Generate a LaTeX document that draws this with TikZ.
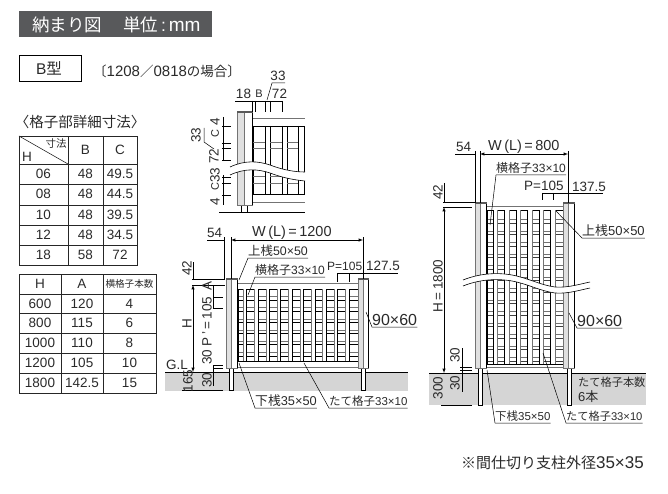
\documentclass[tikz,border=0pt]{standalone}
\usepackage{fontspec}
\setmainfont{Liberation Sans}
\newfontfamily\jp{Noto Sans CJK JP}
\usetikzlibrary{positioning}
\definecolor{barcol}{HTML}{58595B}
\definecolor{groundcol}{HTML}{D5D5D5}
\definecolor{inkcol}{HTML}{2A2A2A}
\newcommand{\fs}[1]{\fontsize{#1}{#1}\selectfont}

% post with its cap, x0 x1 top bottom
\newcommand{\postshape}[4]{
    \fill[white] (#1,#3) rectangle (#2,#4);
    \fill[black!12] (#1,#3) rectangle ({(#1+#2)/2},#4);
    \draw[edgeline] (#1,#3) rectangle (#2,#4);
    \draw[edgeline] ({(#1+#2)/2},#3) -- ({(#1+#2)/2},#4);
    \draw[line width=.7pt] (#2,#3) -- (#2,#4);
    \fill[black!65] (#1-.5,#3-1) rectangle (#2+.8,#3+1);
}
% foot of a post, x0 x1 top bottom
\newcommand{\footshape}[4]{
    \draw[fill=white, line width=.8pt] (#1,#3) rectangle (#2,#4);
}

\tikzset{
    edgeline/.style={black!55, line width=.6pt},
    darkline/.style={black, line width=.8pt},
    dimline/.style={black, line width=.5pt},
    gridline/.style={black!85, line width=.9pt},
    dimtext/.style={inner sep=0pt, text=inkcol, font=\fs{13.5}},
    dimup/.style={dimtext, rotate=90},
    notetext/.style={inner xsep=0pt, inner ysep=1.5pt, anchor=south west, text=inkcol, font=\fs{12}},
    celltext/.style={inner sep=0pt, text=inkcol, font=\fs{13.5}}
}

\begin{document}
\begin{tikzpicture}[x=1pt, y=-1pt, >=latex]

    \useasboundingbox (0,0) rectangle (668,494);

    % Title bar and type box
    \fill[barcol] (19,11) rectangle (212,37);
    \node (title) [anchor=west, inner sep=0pt, text=white, font=\fs{17.5}] at (32,24.5)
    {{\jp 納まり図}\hspace{21pt}{\jp 単位}\,:\,{\fs{19}mm}};
    \draw[line width=.8pt] (19,55) rectangle (81,81);
    \node (btype) [celltext, font=\fs{15.5}] at (49,68) {B{\jp 型}};
    \node (bcase) [anchor=west, inner sep=0pt, text=inkcol, font=\fs{15}] at (93,71)
    {{\fs{13.5}\jp 〔}1208{\fs{13.5}\jp ／}0818{\fs{13.5}\jp の場合〕}};

    % Upper table
    \node (tabA) [inner sep=0pt, text=inkcol, font=\fs{14.5}\jp] at (80,122)
    {〈格子部詳細寸法〉};
    \begin{scope}[gridline]
        \draw (19,136) rectangle (137,265);
        \draw (68,136) -- (68,265);
        \draw (103,136) -- (103,265);
        \foreach \y in {164,184,205,225,245}
            \draw (19,\y) -- (137,\y);
        \draw[line width=.6pt] (19,136) -- (68,164);
    \end{scope}
    \node (tabAsun) [celltext, font=\fs{10.5}\jp] at (56,143.5) {寸法};
    \node (tabAh) [celltext] at (27,157) {H};
    \node (tabAb) [celltext] at (85.5,150) {B};
    \node (tabAc) [celltext] at (120,150) {C};
    \foreach \y/\h/\b/\c in {174/06/48/49.5,194/08/48/44.5,215/10/48/39.5,235/12/48/34.5,255/18/58/72}{
        \node (tabAh\h) [celltext] at (43.5,\y) {\h};
        \node (tabAb\h) [celltext] at (85.5,\y) {\b};
        \node (tabAc\h) [celltext] at (120,\y) {\c};
    }

    % Lower table
    \begin{scope}[gridline]
        \draw (19,274) rectangle (156,393);
        \draw (61,274) -- (61,393);
        \draw (103,274) -- (103,393);
        \foreach \y in {294,313,333,353,373}
            \draw (19,\y) -- (156,\y);
    \end{scope}
    \node (tabBh) [celltext] at (40,284) {H};
    \node (tabBa) [celltext] at (82,284) {A};
    \node (tabBn) [celltext, font=\fs{9.6}\jp] at (129.5,284) {横格子本数};
    \foreach \y/\h/\a/\n in {304/600/120/4,323/800/115/6,343/1000/110/8,363/1200/105/10,383/1800/142.5/15}{
        \node (tabBh\h) [celltext] at (40,\y) {\h};
        \node (tabBa\h) [celltext] at (82,\y) {\a};
        \node (tabBn\h) [celltext] at (129.5,\y) {\n};
    }

    % Detail of the lattice
    \begin{scope}
        \draw[edgeline] (252,118) -- (305,118);
        \draw[darkline] (252,126) -- (305,126);
        \draw[darkline] (252,194) -- (305,194);
        \draw[edgeline] (252,202) -- (305,202);
        \foreach \x in {253,265,270,282,287,298,304}
            \draw[darkline] (\x,126) -- (\x,194);
        \foreach \xa/\xb in {253/265,270/282,287/298}{
            \foreach \y in {142,148,176,183}
                \draw[edgeline] (\xa,\y) -- (\xb,\y);
        }
        \footshape{241}{247}{205}{212}
        \postshape{237}{252}{112}{205}
        \draw[dimline] (219,212) -- (305,212);
        % break in the lattice
        \fill[white] (230,167) .. controls (245,160) and (258,161) .. (270,165)
            .. controls (283,170) and (295,172) .. (305,172) -- (305,181)
            .. controls (295,180) and (283,178) .. (270,173)
            .. controls (258,169) and (245,168) .. (230,175) -- cycle;
        \draw[edgeline, black] (230,167) .. controls (245,160) and (258,161) .. (270,165)
            .. controls (283,170) and (295,172) .. (305,172);
        \draw[edgeline, black] (230,175) .. controls (245,168) and (258,169) .. (270,173)
            .. controls (283,178) and (295,180) .. (305,181);
    \end{scope}

    % Dimensions of the detail
    \begin{scope}[dimline]
        \draw (235,101) -- (282,101);
        \foreach \x in {252,255,265,270,282}
            \draw (\x,101) -- (\x,112);
        \draw (267,100) -- (272,83) -- (285,83);
        \draw (223,117) -- (223,160);
        \draw (223,175) -- (223,205);
        \foreach \y in {126,143,148,160,177,183,195}
            \draw (222,\y) -- (231,\y);
        \draw (204,128) -- (204,142) -- (214,149);
    \end{scope}
    \node (dsa) [dimtext] at (243.5,94) {18};
    \node (dsb) [dimtext, font=\fs{11}] at (259,94) {B};
    \node (dsc) [dimtext] at (279.5,94) {72};
    \node (dsd) [dimtext] at (278,76) {33};
    \node (dse) [dimup] at (196,135) {33};
    \node (dsf) [dimup] at (215,122) {4};
    \node (dsg) [dimup, font=\fs{11}] at (215,134) {C};
    \node (dsh) [dimup] at (214,156) {72};
    \node (dsi) [dimup] at (215,175) {33};
    \node (dsj) [dimup, font=\fs{11}] at (215,187) {C};
    \node (dsk) [dimup] at (215,202) {4};

    % Fence W=1200
    \fill[groundcol] (165,372) rectangle (408,391);
    \draw[line width=.7pt] (165,372) -- (408,372);
    \draw[edgeline] (237,283) -- (358,283);
    \draw[darkline] (237,289) -- (358,289);
    \draw[darkline] (237,361) -- (358,361);
    \draw[edgeline] (237,367) -- (358,367);
    \foreach \k in {0,...,5}{
        \draw[edgeline] (237,{296.5+11.2*\k}) -- (358,{296.5+11.2*\k});
        \draw[darkline] (237,{300+11.2*\k}) -- (358,{300+11.2*\k});
    }
    \foreach \k in {0,...,9}{
        \fill[white] ({243.3+11.35*\k},289) rectangle ({246.8+11.35*\k},361);
        \draw[edgeline] ({243.3+11.35*\k},289) -- ({243.3+11.35*\k},361);
        \draw[darkline] ({246.8+11.35*\k},289) -- ({246.8+11.35*\k},361);
    }
    \draw[darkline] (238,289) -- (238,361);
    \footshape{229}{233}{368}{390}
    \footshape{361}{365}{368}{390}
    \postshape{226}{237}{279}{368}
    \postshape{358}{368}{279}{368}

    % Dimensions of fence W=1200
    \begin{scope}[dimline]
        \draw (207,240) -- (224,240);
        \draw (224,237) -- (224,279);
        \draw (231,237) -- (231,279);
        \draw[<->] (231,240) -- (363,240);
        \draw (363,237) -- (363,279);
        \draw (337,273) -- (398,273);
        \foreach \x in {337,349}
            \draw (\x,273) -- (\x,282);
        \draw (193,262) -- (193,279);
        \draw (192,279) -- (225,279);
        \draw (192,285) -- (225,285);
        \draw[<->] (193,285) -- (193,372);
        \draw (213,285) -- (213,308);
        \draw (213,365) -- (213,386);
        \foreach \y in {297,308,365,368}
            \draw (213,\y) -- (223,\y);
        \draw (182,390) -- (223,390);
    \end{scope}
    \node (fla) [dimtext, anchor=west] at (207,233) {54};
    \node (flb) [dimtext, anchor=west, font=\fs{14.5}] at (252,233) {W\,(L)\,=\,1200};
    \node (flc) [dimtext, anchor=west, font=\fs{12}] at (327,266) {P=105};
    \node (fld) [dimtext, anchor=west] at (366,266) {127.5};
    \node (fle) [dimup] at (187,268) {42};
    \node (flf) [dimup] at (187,324) {H};
    \node (flg) [dimup] at (207,314) {P\,'\,=\,105\, A};
    \node (flh) [dimup] at (207,357) {30};
    \node (fli) [dimup] at (207,380) {30};
    \node (flj) [dimup] at (188,381) {165};
    \node (flk) [dimtext, anchor=west] at (166,365) {G.L};

    % Labels of fence W=1200
    \node (flrail) [notetext, font=\fs{12.4}] at (248,258) {{\jp 上桟}50×50};
    \node (fllat) [notetext] at (255,277) {{\jp 横格子}33×10};
    \node (flpost) [notetext, font=\fs{16}] at (372,327) {90×60};
    \node (fllow) [notetext, font=\fs{12.8}] at (255,408) {{\jp 下桟}35×50};
    \node (flpick) [notetext, font=\fs{11.5}] at (329,408) {{\jp たて格子}33×10};
    \coordinate (flrailtip) at (239,280);
    \coordinate (fllattip) at (248,295);
    \coordinate (flposttip) at (366,312);
    \coordinate (fllowtip) at (239,363);
    \coordinate (flpicktip) at (304,363);
    \foreach \n in {flrail,fllat,fllow}{
        \draw[dimline] (\n.south east) -- (\n.south west) -- (\n tip);
    }
    \foreach \n in {flpost,flpick}{
        \draw[dimline] (\n.south east) -- (\n.south west) -- (\n tip);
    }

    % Fence W=800
    \fill[groundcol] (429,373) rectangle (646,405);
    \draw[line width=.7pt] (429,373) -- (646,373);
    \draw[edgeline] (486,206) -- (563,206);
    \draw[darkline] (486,210) -- (563,210);
    \draw[darkline] (486,364) -- (563,364);
    \draw[edgeline] (486,367) -- (563,367);
    \foreach \k in {0,...,12}{
        \draw[edgeline] (486,{219.5+11.5*\k}) -- (563,{219.5+11.5*\k});
        \draw[line width=.7pt, black!75] (486,{223+11.5*\k}) -- (563,{223+11.5*\k});
    }
    \foreach \k in {0,...,5}{
        \fill[white] ({493.3+11.5*\k},210) rectangle ({497.3+11.5*\k},364);
        \draw[darkline] ({493.3+11.5*\k},210) -- ({493.3+11.5*\k},364);
        \draw[edgeline] ({497.3+11.5*\k},210) -- ({497.3+11.5*\k},364);
    }
    \draw[darkline] (487,210) -- (487,364);
    \footshape{478}{482}{368}{405}
    \footshape{567}{571}{368}{405}
    \postshape{475}{486}{203}{368}
    \postshape{563}{574}{203}{368}
    % break in the lattice
    \fill[white] (463,280) .. controls (478,274) and (495,272) .. (512,275)
        .. controls (528,278) and (540,285) .. (555,287)
        .. controls (568,288) and (580,284) .. (590,282) -- (590,288)
        .. controls (580,290) and (568,294) .. (555,293)
        .. controls (540,291) and (528,284) .. (512,281)
        .. controls (495,278) and (478,280) .. (463,286) -- cycle;
    \draw[edgeline, black] (463,280) .. controls (478,274) and (495,272) .. (512,275)
        .. controls (528,278) and (540,285) .. (555,287)
        .. controls (568,288) and (580,284) .. (590,282);
    \draw[edgeline, black] (463,286) .. controls (478,280) and (495,278) .. (512,281)
        .. controls (528,284) and (540,291) .. (555,293)
        .. controls (568,294) and (580,290) .. (590,288);

    % Dimensions of fence W=800
    \begin{scope}[dimline]
        \draw (455,154) -- (475,154);
        \draw (475,151) -- (475,203);
        \draw (480,151) -- (480,203);
        \draw[<->] (480,154) -- (568,154);
        \draw (568,151) -- (568,203);
        \draw (542,193) -- (603,193);
        \foreach \x in {542,553}
            \draw (\x,193) -- (\x,200);
        \draw (444,183) -- (444,202);
        \draw (443,202) -- (475,202);
        \draw (443,207) -- (472,207);
        \draw[<->] (444,207) -- (444,373);
        \draw (462,348) -- (462,392);
        \foreach \y in {367,370}
            \draw (460,\y) -- (472,\y);
        \draw (441,405) -- (472,405);
    \end{scope}
    \node (fra) [dimtext, anchor=west] at (456,147) {54};
    \node (frb) [dimtext, anchor=west, font=\fs{14.5}] at (488,147) {W\,(L)\,=\,800};
    \node (frc) [dimtext, anchor=west] at (524,186) {P=105};
    \node (frd) [dimtext, anchor=west] at (572,187) {137.5};
    \node (fre) [dimup] at (438,192) {42};
    \node (frf) [dimup] at (438,286) {H\,=\,1800};
    \node (frg) [dimup] at (455,355) {30};
    \node (frh) [dimup] at (455,383) {30};
    \node (fri) [dimup] at (438,388) {300};

    % Labels of fence W=800
    \node (frlat) [notetext] at (496,175) {{\jp 横格子}33×10};
    \node (frrail) [notetext, font=\fs{13}] at (582,238) {{\jp 上桟}50×50};
    \node (frpost) [notetext, font=\fs{16}] at (577,328) {90×60};
    \node (frlow) [notetext, font=\fs{11.5}] at (495,423) {{\jp 下桟}35×50};
    \node (frpick) [notetext, font=\fs{11.2}] at (566,423) {{\jp たて格子}33×10};
    \node (frcount) [inner sep=0pt, anchor=north west, align=left, text=inkcol, font=\fs{11.2}] at (578,377)
    {{\jp たて格子本数}\\[2pt]{\fs{13}6{\jp 本}}};
    \coordinate (frlattip) at (490,225);
    \coordinate (frrailtip) at (556,211);
    \coordinate (frposttip) at (569,313);
    \coordinate (frlowtip) at (487,370);
    \coordinate (frpicktip) at (543,353);
    \foreach \n in {frlat,frrail,frpost,frlow,frpick}{
        \draw[dimline] (\n.south east) -- (\n.south west) -- (\n tip);
    }

    % Note
    \node (footnote) [anchor=east, inner sep=0pt, text=inkcol, font=\fs{17}] at (644,463)
    {{\fs{15}\jp ※間仕切り支柱外径}35×35};

\end{tikzpicture}
\end{document}
